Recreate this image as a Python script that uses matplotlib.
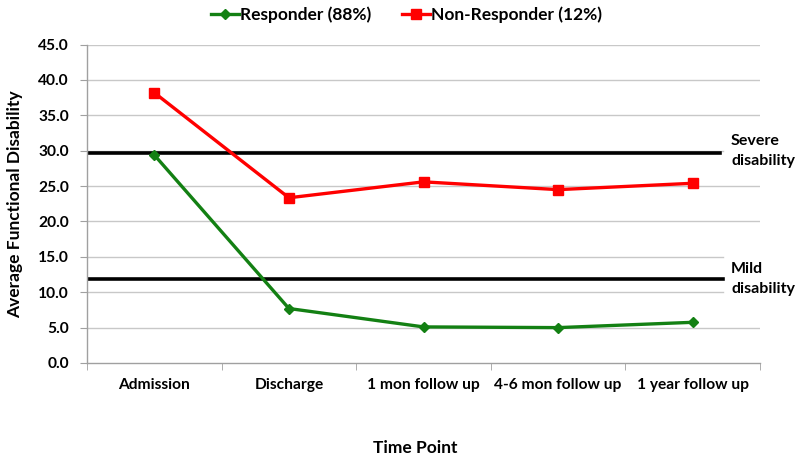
import matplotlib
matplotlib.use("Agg")
import matplotlib.pyplot as plt
from matplotlib.lines import Line2D

categories = ["Admission", "Discharge", "1 mon follow up", "4-6 mon follow up", "1 year follow up"]
responder = [29.4, 7.7, 5.1, 5.0, 5.75]
non_responder = [38.2, 23.35, 25.6, 24.5, 25.4]
severe_threshold = 29.7
mild_threshold = 11.8
yticks = [0, 5, 10, 15, 20, 25, 30, 35, 40, 45]

FONT = ["Lato", "DejaVu Sans"]
plt.rcParams["font.family"] = FONT
plt.rcParams["font.weight"] = "bold"

fig = plt.figure(figsize=(8, 4.62), dpi=100)
ax = fig.add_axes([0.10875, 0.2143, 0.8413, 0.6892])

n = len(categories)
x = list(range(n))
ax.set_xlim(-0.5, n - 0.5)
ax.set_ylim(0, 45)

grid_color = "#c8c8c8"
label_cut = (723 - 87) / (760 - 87)
for yv in yticks[1:]:
    xmax = label_cut if yv in (10, 15, 30) else 1.0
    ax.axhline(yv, xmin=0, xmax=xmax, color=grid_color, lw=1.0, zorder=1)

ax.axhline(severe_threshold, xmin=0, xmax=(720 - 87) / (760 - 87), color="black", lw=2.6, zorder=2)
ax.axhline(mild_threshold, xmin=0, xmax=label_cut, color="black", lw=2.6, zorder=2)

ax.plot(x, responder, color="#138013", lw=2.4, marker="D", ms=5.5, zorder=4, label="Responder (88%)")
ax.plot(x, non_responder, color="#ff0000", lw=2.4, marker="s", ms=7, zorder=4, label="Non-Responder (12%)")

for s in ["top", "right"]:
    ax.spines[s].set_visible(False)
for s in ["left", "bottom"]:
    ax.spines[s].set_color("#a0a0a0")
    ax.spines[s].set_linewidth(1.0)

ax.set_yticks(yticks)
ax.set_yticklabels([f"{v:.1f}" for v in yticks], fontsize=11.2, fontweight="bold")
ax.set_xticks(x)
ax.set_xticklabels(categories, fontsize=11.2, fontweight="bold")
ax.set_xticks([i - 0.5 for i in range(n + 1)], minor=True)
ax.tick_params(axis="x", which="major", length=0, pad=11)
ax.tick_params(axis="x", which="minor", length=5, color="#a0a0a0")
ax.tick_params(axis="y", length=5, color="#a0a0a0", pad=8)

fig.text(15 / 800, 0.5 * (0.2143 + 0.9035), "Average Functional Disability", rotation=90,
         ha="center", va="center", fontsize=12.5, fontweight="bold")
fig.text(0.519, 0.03, "Time Point", ha="center", va="center", fontsize=12.5, fontweight="bold")

fig.text(731 / 800, 1 - 151 / 462, "Severe\ndisability", ha="left", va="center", fontsize=11.5,
         fontweight="bold", linespacing=1.5)
fig.text(731 / 800, 1 - 279 / 462, "Mild\ndisability", ha="left", va="center", fontsize=11.5,
         fontweight="bold", linespacing=1.5)

handles = [
    Line2D([0], [0], color="#138013", lw=2.4, marker="D", ms=5.5),
    Line2D([0], [0], color="#ff0000", lw=2.4, marker="s", ms=7),
]
fig.legend(handles, ["Responder (88%)", "Non-Responder (12%)"], loc="center", bbox_to_anchor=(0.508, 0.968),
           ncol=2, frameon=False, prop={"size": 12.5, "weight": "bold"}, handlelength=1.6,
           handletextpad=0.05, columnspacing=1.8)

fig.savefig("out.png", dpi=100)
